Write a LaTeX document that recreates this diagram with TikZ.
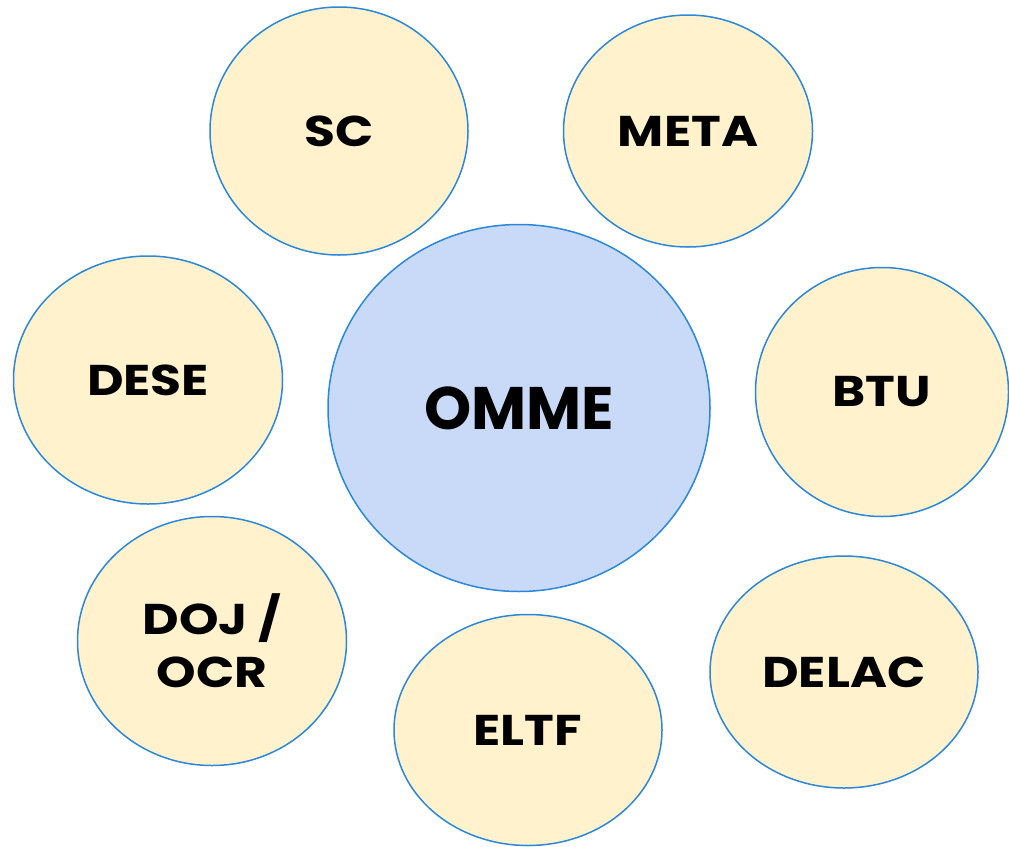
\documentclass[tikz,border=0pt]{standalone}
\usepackage{fontspec}
\setmainfont{Poppins}
\newfontfamily\widefont[FakeStretch=1.17]{Poppins}
\usetikzlibrary{shapes.geometric}
\definecolor{edgeblue}{HTML}{2B87D9}
\definecolor{paleyellow}{HTML}{FFF2CC}
\definecolor{paleblue}{HTML}{C9DAF8}
\tikzset{
  bubble/.style={ellipse, draw=edgeblue, line width=1.5pt, fill=paleyellow, inner sep=0pt,
    font=\widefont\fontsize{43}{53}\selectfont\bfseries, align=center},
  hub/.style={bubble, fill=paleblue, font=\fontsize{60}{70}\selectfont\bfseries}
}
\begin{document}
\begin{tikzpicture}[x=1pt,y=-1pt]
\useasboundingbox (0,0) rectangle (1009,846);
\node[hub, minimum width=382pt, minimum height=367pt] (omme) at (519,408) {OMME};
\node[bubble, minimum width=258pt, minimum height=248pt] (sc) at (339,131) {SC};
\node[bubble, minimum width=249pt, minimum height=232pt] (meta) at (688,131) {META};
\node[bubble, minimum width=269pt, minimum height=248pt] (dese) at (148,380) {DESE};
\node[bubble, minimum width=253pt, minimum height=249pt] (btu) at (882,392) {BTU};
\node[bubble, minimum width=269pt, minimum height=249pt] (doj) at (212,641) {DOJ /\\OCR};
\node[bubble, minimum width=268pt, minimum height=231pt] (eltf) at (528,730) {ELTF};
\node[bubble, minimum width=268pt, minimum height=232pt] (delac) at (844,672) {DELAC};
\end{tikzpicture}
\end{document}
